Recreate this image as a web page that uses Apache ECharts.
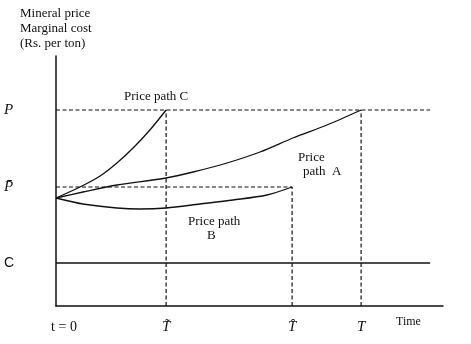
<!DOCTYPE html>
<html>
<head>
<meta charset="utf-8">
<script src="https://cdn.jsdelivr.net/npm/echarts@6/dist/echarts.min.js"></script>
<style>
  html, body { margin: 0; padding: 0; background: #fff; }
  #chart { width: 471px; height: 344px; }
</style>
</head>
<body>
<div id="chart"></div>
<script>
// levels on the price axis
var priceP = 98;       // P
var priceBar = 59.5;   // P-bar
var costC = 21.5;      // marginal cost C
// points on the time axis
var tTilde = 36.7;
var tHat = 78.7;
var tEnd = 101.7;
var lineEnd = 124.7;

// price paths [time, price]
var pathA = [[0, 54], [9, 57], [20.3, 60.5], [36.7, 64], [45.7, 67], [57, 71.5], [68, 77], [79, 84], [90.3, 90.5], [101.7, 98]];
var pathB = [[0, 54], [9, 51], [20.3, 49], [28, 48.5], [36.7, 49], [48, 51], [59, 53], [70.3, 55.5], [78.7, 59.5]];
var pathC = [[0, 54], [8, 59.5], [14.7, 65], [20.3, 71.5], [25.7, 79], [31.3, 88], [36.7, 98]];

var xTicks = [0, tTilde, tHat, tEnd];
var xTickNames = ['t = 0', 'T\u0303', 'T\u0302', 'T'];
var yTicks = [costC, priceBar, priceP];
var yTickNames = ['C', 'P\u0304', 'P'];

var serif = 'Liberation Serif';

function dashed(data) {
    return {
        type: 'line', data: data, symbol: 'none', silent: true,
        lineStyle: { color: '#111', width: 1.2, type: [4, 2.5] }
    };
}
function curve(data) {
    return {
        type: 'line', data: data, symbol: 'none', smooth: 0.3, silent: true,
        lineStyle: { color: '#111', width: 1.3 }
    };
}

var chart = echarts.init(document.getElementById('chart'));
chart.setOption({
    animation: false,
    grid: { left: 56, right: 28, top: 56, bottom: 38, outerBoundsMode: 'none' },
    xAxis: {
        type: 'value', min: 0, max: 129,
        splitLine: { show: false },
        axisTick: { show: false },
        axisLine: { show: true, onZero: false, lineStyle: { color: '#111', width: 1.5 } },
        axisLabel: {
            customValues: xTicks,
            margin: 14,
            formatter: function (v) {
                var i = xTicks.indexOf(v);
                return (i === 0 ? '{z|' : '{t|') + xTickNames[i] + '}';
            },
            rich: {
                z: { fontFamily: serif, fontSize: 14, color: '#111', padding: [0, 0, 0, 16] },
                t: { fontFamily: serif, fontSize: 15, fontStyle: 'italic', color: '#111' }
            }
        }
    },
    yAxis: {
        type: 'value', min: 0, max: 125,
        splitLine: { show: false },
        axisTick: { show: false },
        axisLine: { show: true, onZero: false, lineStyle: { color: '#111', width: 1.5 } },
        axisLabel: {
            customValues: yTicks,
            margin: 52,
            align: 'left',
            formatter: function (v) {
                var i = yTicks.indexOf(v);
                return (i === 0 ? '{c|' : '{p|') + yTickNames[i] + '}';
            },
            rich: {
                c: { fontFamily: 'Liberation Sans', fontSize: 14, color: '#111' },
                p: { fontFamily: serif, fontSize: 15, fontStyle: 'italic', color: '#111' }
            }
        }
    },
    series: [
        dashed([[0, priceP], [lineEnd, priceP]]),
        dashed([[0, priceBar], [tHat, priceBar]]),
        dashed([[tTilde, 0], [tTilde, priceP]]),
        dashed([[tHat, 0], [tHat, priceBar]]),
        dashed([[tEnd, 0], [tEnd, priceP]]),
        {
            type: 'line', data: [[0, costC], [lineEnd, costC]], symbol: 'none', silent: true,
            lineStyle: { color: '#111', width: 1.3 }
        },
        curve(pathA),
        curve(pathB),
        curve(pathC)
    ],
    graphic: [
        { type: 'text', left: 20, top: 6, style: { text: 'Mineral price\nMarginal cost\n(Rs. per ton)', font: '13px "Liberation Serif"', lineHeight: 15, fill: '#111' } },
        { type: 'text', left: 124, top: 90, style: { text: 'Price path C', font: '13px "Liberation Serif"', fill: '#111' } },
        { type: 'text', left: 298, top: 151, style: { text: 'Price', font: '13px "Liberation Serif"', fill: '#111' } },
        { type: 'text', left: 303, top: 165, style: { text: 'path  A', font: '13px "Liberation Serif"', fill: '#111' } },
        { type: 'text', left: 188, top: 215, style: { text: 'Price path', font: '13px "Liberation Serif"', fill: '#111' } },
        { type: 'text', left: 207, top: 229, style: { text: 'B', font: '13px "Liberation Serif"', fill: '#111' } },
        { type: 'text', left: 396, top: 316, style: { text: 'Time', font: '12px "Liberation Serif"', fill: '#111' } }
    ]
});
</script>
</body>
</html>
